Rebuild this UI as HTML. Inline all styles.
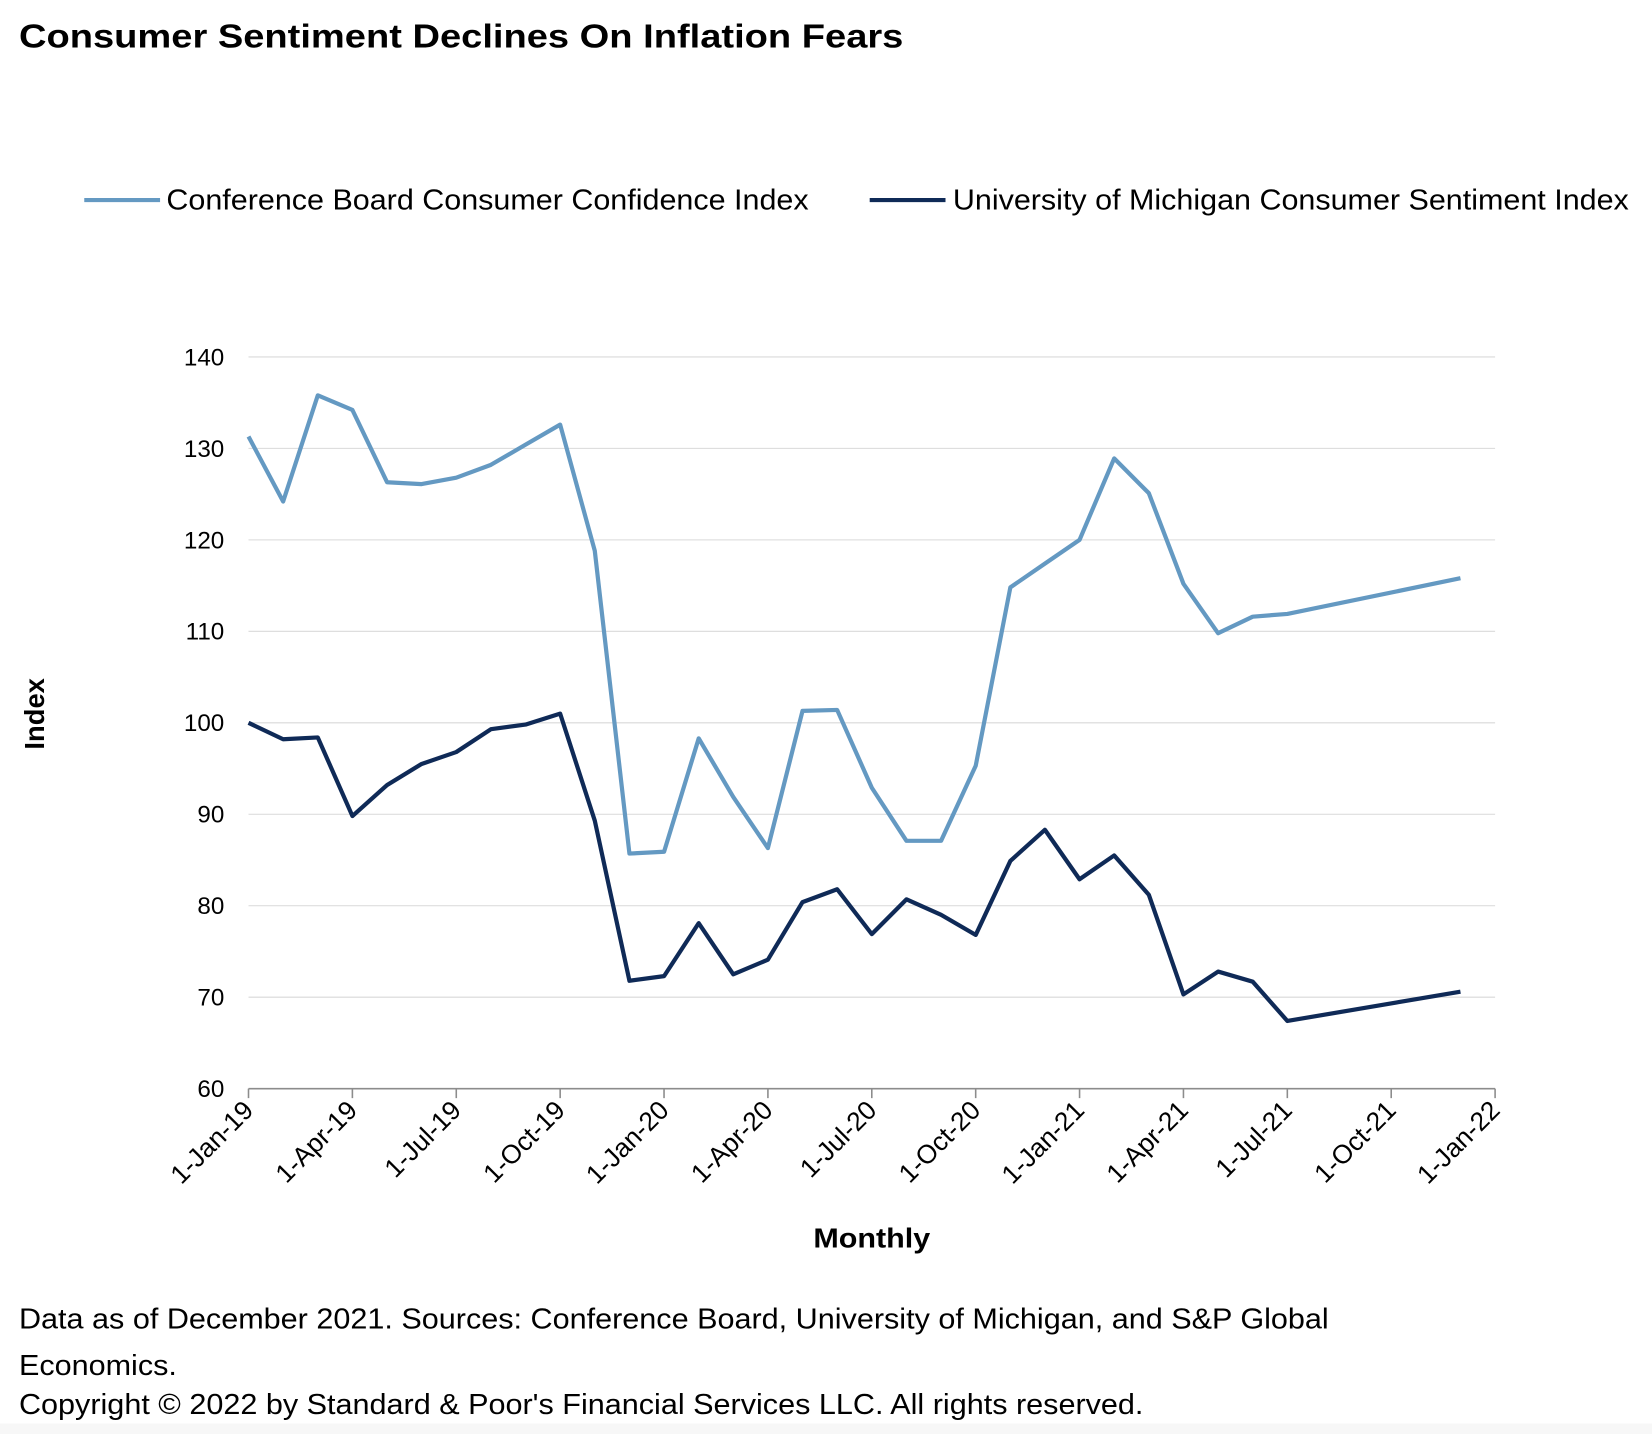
<!DOCTYPE html>
<html><head><meta charset="utf-8"><style>
html,body{margin:0;padding:0;background:#fff;}
svg{display:block;font-family:"Liberation Sans",Arial,sans-serif;}
</style></head><body>
<svg id="chart" width="1652" height="1434" viewBox="0 0 1569 1362" xmlns="http://www.w3.org/2000/svg">
<rect x="0" y="0" width="1569" height="1362" fill="#fff"/>
<rect x="0" y="1352" width="1569" height="10" fill="#f7f7f7"/>
<text x="18" y="45" font-size="32" font-weight="bold" fill="#000" textLength="840" lengthAdjust="spacingAndGlyphs">Consumer Sentiment Declines On Inflation Fears</text>
<g>
<g>
<line x1="80" y1="190" x2="152" y2="190" stroke="#6499c2" stroke-width="4"/>
<text x="158" y="199" font-size="27" fill="#000" textLength="610" lengthAdjust="spacingAndGlyphs">Conference Board Consumer Confidence Index</text></g>
<g>
<line x1="826" y1="190" x2="898" y2="190" stroke="#0f2a57" stroke-width="4"/>
<text x="905" y="199" font-size="27" fill="#000" textLength="642" lengthAdjust="spacingAndGlyphs">University of Michigan Consumer Sentiment Index</text></g>
</g>
<g id="grid"></g>
<g id="yaxis"></g>
<g id="xaxis"></g>
<g id="series"></g>
<text transform="translate(42,678) rotate(-90)" text-anchor="middle" font-size="26" font-weight="bold">Index</text>
<text x="828" y="1185" text-anchor="middle" font-size="26" font-weight="bold" textLength="111" lengthAdjust="spacingAndGlyphs">Monthly</text>
<g font-size="27" fill="#000">
<text x="18" y="1262" textLength="1244" lengthAdjust="spacingAndGlyphs">Data as of December 2021. Sources: Conference Board, University of Michigan, and S&amp;P Global</text>
<text x="18" y="1306" textLength="150" lengthAdjust="spacingAndGlyphs">Economics.</text>
<text x="18" y="1343" textLength="1068" lengthAdjust="spacingAndGlyphs">Copyright © 2022 by Standard &amp; Poor's Financial Services LLC. All rights reserved.</text>
</g>
</svg>
<script>
const yTicks = [60,70,80,90,100,110,120,130,140];
const xTickLabels = ["1-Jan-19","1-Apr-19","1-Jul-19","1-Oct-19","1-Jan-20","1-Apr-20","1-Jul-20","1-Oct-20","1-Jan-21","1-Apr-21","1-Jul-21","1-Oct-21","1-Jan-22"];
const conferenceBoard = [131.3,124.2,135.8,134.2,126.3,126.1,126.8,128.2,130.4,132.6,118.8,85.7,
 85.9,98.3,91.9,86.3,101.3,101.4,92.9,87.1,87.1,95.3,114.8,117.4,
 120.0,128.9,125.1,115.2,109.8,111.6,111.9,null,null,null,null,115.8];
const michigan = [100.0,98.2,98.4,89.8,93.2,95.5,96.8,99.3,99.8,101.0,89.3,71.8,
 72.3,78.1,72.5,74.1,80.4,81.8,76.9,80.7,79.0,76.8,84.9,88.3,
 82.9,85.5,81.2,70.3,72.8,71.7,67.4,null,null,null,null,70.6];
const NS="http://www.w3.org/2000/svg";
const X0=236,X1=1420,Y0=1034,Y1=339;
const x = m => X0 + (X1-X0)*m/36;
const y = v => Y0 - (Y0-Y1)*(v-60)/80;
function mk(tag,attrs,parent){const e=document.createElementNS(NS,tag);for(const k in attrs)e.setAttribute(k,attrs[k]);parent.appendChild(e);return e;}
const grid=document.getElementById('grid'),ya=document.getElementById('yaxis'),xa=document.getElementById('xaxis'),ser=document.getElementById('series');
yTicks.forEach(v=>{
 if(v>60){const l=mk('line',{x1:X0,x2:X1,y1:y(v),y2:y(v),stroke:'#d9d9d9','stroke-width':1},grid);
 
 }
 const t=mk('text',{x:213,y:y(v)+8,'text-anchor':'end','font-size':23},ya);
 t.textContent=v;
 
 
});
mk('line',{x1:X0,x2:X1,y1:Y0,y2:Y0,stroke:'#8c8c8c','stroke-width':1.5},xa);
xTickLabels.forEach((lab,i)=>{
 const xx=x(i*3);
 mk('line',{x1:xx,x2:xx,y1:Y0,y2:Y0+9,stroke:'#8c8c8c','stroke-width':1.5},xa);
 const t=mk('text',{transform:`translate(${xx+6},${Y0+22}) rotate(-45)`,'text-anchor':'end','font-size':25},xa);
 t.textContent=lab;
 
 
});
function draw(arr,color,name){
 const pts=[];arr.forEach((v,i)=>{if(v!==null)pts.push(x(i).toFixed(1)+','+y(v).toFixed(1));});
 const p=mk('polyline',{points:pts.join(' '),fill:'none',stroke:color,'stroke-width':4,'stroke-linejoin':'round'},ser);
 
 
}
draw(conferenceBoard,'#6499c2','conference-board-line');
draw(michigan,'#0f2a57','michigan-line');
</script>
</body></html>
